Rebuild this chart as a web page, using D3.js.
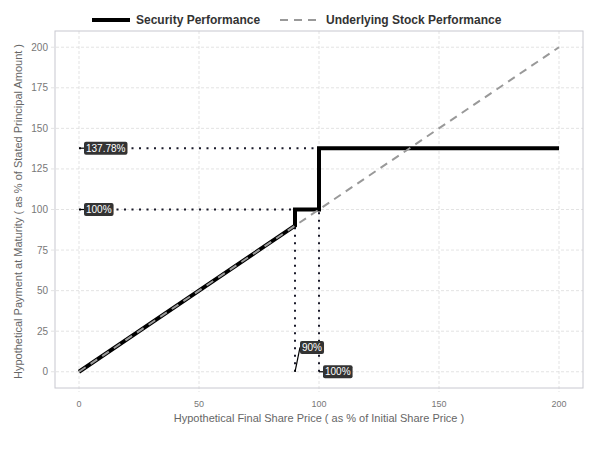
<!DOCTYPE html>
<html><head><meta charset="utf-8">
<script src="https://cdn.jsdelivr.net/npm/d3@7"></script>
<style>body{margin:0;background:#fff;font-family:"Liberation Sans",Arial,sans-serif;}</style>
</head><body><svg id="c" width="600" height="450"></svg>
<script>
const xTicks = [0, 50, 100, 150, 200];
const yTicks = [0, 25, 50, 75, 100, 125, 150, 175, 200];
const securityX = [0, 90, 90, 100, 100, 200];
const securityY = [0, 90, 100, 100, 137.78, 137.78];
const stockX = [0, 200];
const stockY = [0, 200];
const hGuides = [{y: 137.78, x0: 0, x1: 100, label: "137.78%"}, {y: 100, x0: 0, x1: 90, label: "100%"}];
const vGuides = [{x: 90, y0: 0, y1: 100, label: "90%"}, {x: 100, y0: 0, y1: 137.78, label: "100%"}];
const legendNames = ["Security Performance", "Underlying Stock Performance"];

const svg = d3.select("#c");
const L = 55, R = 583, T = 31, B = 388;
const x = d3.scaleLinear().domain([-10, 210]).range([L, R]);
const y = d3.scaleLinear().domain([-10, 210]).range([B, T]);

// grid
const g = svg.append("g");
g.selectAll(".gx").data(xTicks).join("line")
  .attr("x1", d => x(d)).attr("x2", d => x(d)).attr("y1", T).attr("y2", B + 4)
  .attr("stroke", "#dcdcdc").attr("stroke-dasharray", "3,2").attr("stroke-width", 0.8);
g.selectAll(".gy").data(yTicks).join("line")
  .attr("y1", d => y(d)).attr("y2", d => y(d)).attr("x1", L - 4).attr("x2", R)
  .attr("stroke", "#dcdcdc").attr("stroke-dasharray", "3,2").attr("stroke-width", 0.8);
svg.append("rect").attr("x", L).attr("y", T).attr("width", R - L).attr("height", B - T)
  .attr("fill", "none").attr("stroke", "#c8c8d0").attr("stroke-width", 1);

// tick labels
svg.append("g").selectAll("text").data(xTicks).join("text")
  .attr("x", d => x(d)).attr("y", B + 19).attr("text-anchor", "middle")
  .attr("font-size", 9).attr("fill", "#777").text(d => d);
svg.append("g").selectAll("text").data(yTicks).join("text")
  .attr("x", L - 7).attr("y", d => y(d) + 3.5).attr("text-anchor", "end")
  .attr("font-size", 10).attr("fill", "#777").text(d => d);

// axis titles
svg.append("text").attr("x", x(100)).attr("y", 422).attr("text-anchor", "middle")
  .attr("font-size", 11).attr("fill", "#666").text("Hypothetical Final Share Price ( as % of Initial Share Price )");
svg.append("text").attr("transform", `translate(22,${(T + B) / 2 + 2}) rotate(-90)`).attr("text-anchor", "middle")
  .attr("font-size", 11).attr("fill", "#666").text("Hypothetical Payment at Maturity ( as % of Stated Principal Amount )");

// guides
const dot = {stroke: "#1a1a2a", "stroke-width": 2, "stroke-dasharray": "2,5.5"};
hGuides.forEach(h => {
  svg.append("line").attr("x1", x(h.x0)).attr("x2", x(h.x1)).attr("y1", y(h.y)).attr("y2", y(h.y))
    .attr("stroke", dot.stroke).attr("stroke-width", dot["stroke-width"]).attr("stroke-dasharray", dot["stroke-dasharray"]);
});
vGuides.forEach(v => {
  svg.append("line").attr("x1", x(v.x)).attr("x2", x(v.x)).attr("y1", y(v.y0)).attr("y2", y(v.y1))
    .attr("stroke", dot.stroke).attr("stroke-width", dot["stroke-width"]).attr("stroke-dasharray", dot["stroke-dasharray"]);
});

// lines
const line = d3.line().x(d => x(d[0])).y(d => y(d[1]));
svg.append("path").datum(securityX.map((v, i) => [v, securityY[i]])).attr("d", line)
  .attr("fill", "none").attr("stroke", "#000").attr("stroke-width", 4).attr("stroke-linejoin", "miter");
svg.append("path").datum(stockX.map((v, i) => [v, stockY[i]])).attr("d", line)
  .attr("fill", "none").attr("stroke", "#999").attr("stroke-width", 2).attr("stroke-dasharray", "8,6");

// labels
function label(px, py, text, lx, ly) {
  const gg = svg.append("g");
  gg.append("line").attr("x1", lx).attr("y1", ly).attr("x2", px).attr("y2", py + 6.5)
    .attr("stroke", "#000").attr("stroke-width", 1.2);
  const t = gg.append("text").attr("x", px + 2).attr("y", py + 10).attr("font-size", 10).attr("fill", "#fff").text(text);
  const w = t.node().getComputedTextLength();
  gg.insert("rect", "text").attr("x", px).attr("y", py).attr("width", w + 4).attr("height", 13)
    .attr("rx", 2).attr("fill", "#333");
}
label(x(0) + 5, y(137.78) - 6.5, hGuides[0].label, x(0), y(137.78));
label(x(0) + 5, y(100) - 6.5, hGuides[1].label, x(0), y(100));
label(x(90) + 5, y(15) - 6.5, vGuides[0].label, x(90), y(0));
label(x(100) + 4, y(0) - 6.5, vGuides[1].label, x(100), y(0));

// legend
svg.append("line").attr("x1", 92).attr("x2", 130).attr("y1", 20).attr("y2", 20).attr("stroke", "#000").attr("stroke-width", 4);
svg.append("text").attr("x", 136).attr("y", 24).attr("font-size", 12).attr("font-weight", "bold").attr("fill", "#333").text(legendNames[0]);
svg.append("line").attr("x1", 280).attr("x2", 318).attr("y1", 20).attr("y2", 20).attr("stroke", "#999").attr("stroke-width", 2).attr("stroke-dasharray", "8,6");
svg.append("text").attr("x", 326).attr("y", 24).attr("font-size", 12).attr("font-weight", "bold").attr("fill", "#333").text(legendNames[1]);
</script></body></html>
